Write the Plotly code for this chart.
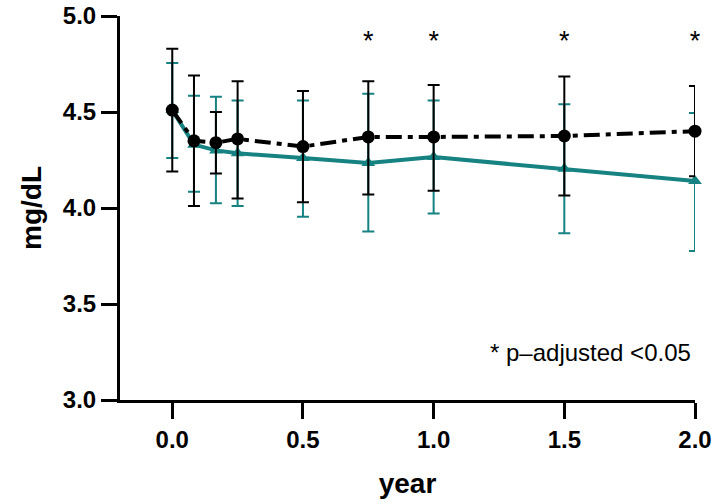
import plotly.graph_objects as go

years = [0.0, 0.083, 0.167, 0.25, 0.5, 0.75, 1.0, 1.5, 2.0]

# black series (dash-dot, circles)
black_mean = [4.51, 4.35, 4.34, 4.36, 4.32, 4.37, 4.37, 4.375, 4.40]
black_upper = [4.83, 4.69, 4.50, 4.66, 4.61, 4.66, 4.64, 4.685, 4.635]
black_lower = [4.19, 4.01, 4.18, 4.05, 4.03, 4.07, 4.09, 4.065, 4.165]

# teal series (solid, triangles)
teal_mean = [4.51, 4.33, 4.30, 4.285, 4.26, 4.235, 4.265, 4.205, 4.14]
teal_upper = [4.755, 4.585, 4.58, 4.56, 4.56, 4.595, 4.56, 4.54, 4.495]
teal_lower = [4.26, 4.085, 4.025, 4.01, 3.955, 3.877, 3.972, 3.868, 3.776]

sig_years = [0.75, 1.0, 1.5, 2.0]
sig_y = [4.86, 4.86, 4.86, 4.86]

teal = "#168282"
font_family = "Liberation Sans, Arial, sans-serif"

fig = go.Figure()

fig.add_trace(go.Scatter(
    x=years, y=teal_mean, mode="lines+markers",
    line=dict(color=teal, width=4),
    marker=dict(symbol="triangle-up", size=12, color=teal),
    error_y=dict(type="data", symmetric=False,
                 array=[u - m for u, m in zip(teal_upper, teal_mean)],
                 arrayminus=[m - l for l, m in zip(teal_lower, teal_mean)],
                 color=teal, thickness=2, width=6),
    showlegend=False, cliponaxis=False,
))

fig.add_trace(go.Scatter(
    x=years, y=black_mean, mode="lines+markers",
    line=dict(color="black", width=4, dash="16px,6px,5px,6px"),
    marker=dict(symbol="circle", size=13, color="black"),
    error_y=dict(type="data", symmetric=False,
                 array=[u - m for u, m in zip(black_upper, black_mean)],
                 arrayminus=[m - l for l, m in zip(black_lower, black_mean)],
                 color="black", thickness=2, width=6),
    showlegend=False, cliponaxis=False,
))

fig.add_trace(go.Scatter(
    x=sig_years, y=sig_y, mode="text", text=["*"] * len(sig_years),
    textfont=dict(family=font_family, size=27, color="black"),
    showlegend=False, cliponaxis=False,
))

fig.add_annotation(
    x=0.997, xref="paper", xanchor="right", y=3.245, yref="y",
    text="* p\u2013adjusted <0.05", showarrow=False,
    font=dict(family=font_family, size=24, color="black"),
)

fig.update_layout(
    width=718, height=504,
    margin=dict(l=120, r=23, t=16, b=104, autoexpand=False),
    plot_bgcolor="white", paper_bgcolor="white",
    font=dict(family=font_family, color="black"),
)

fig.update_xaxes(
    range=[-0.2, 2.0], tickvals=[0.0, 0.5, 1.0, 1.5, 2.0],
    ticktext=["0.0", "0.5", "1.0", "1.5", "2.0"],
    showgrid=False, zeroline=False, showline=True, linecolor="black", linewidth=3,
    ticks="outside", ticklen=16, tickwidth=3, tickcolor="black",
    tickfont=dict(family=font_family, size=24, weight="bold"),
    title=dict(text="year", font=dict(family=font_family, size=28, weight="bold"), standoff=22),
    automargin=False,
)

fig.update_yaxes(
    range=[3.0, 5.0], tickvals=[3.0, 3.5, 4.0, 4.5, 5.0],
    ticktext=["3.0", "3.5", "4.0", "4.5", "5.0"],
    showgrid=False, zeroline=False, showline=True, linecolor="black", linewidth=3,
    ticks="outside", ticklen=16, tickwidth=3, tickcolor="black",
    tickfont=dict(family=font_family, size=24, weight="bold"),
    title=dict(text="mg/dL", font=dict(family=font_family, size=28, weight="bold"), standoff=14),
    automargin=False,
)

fig.write_html("out.html")
